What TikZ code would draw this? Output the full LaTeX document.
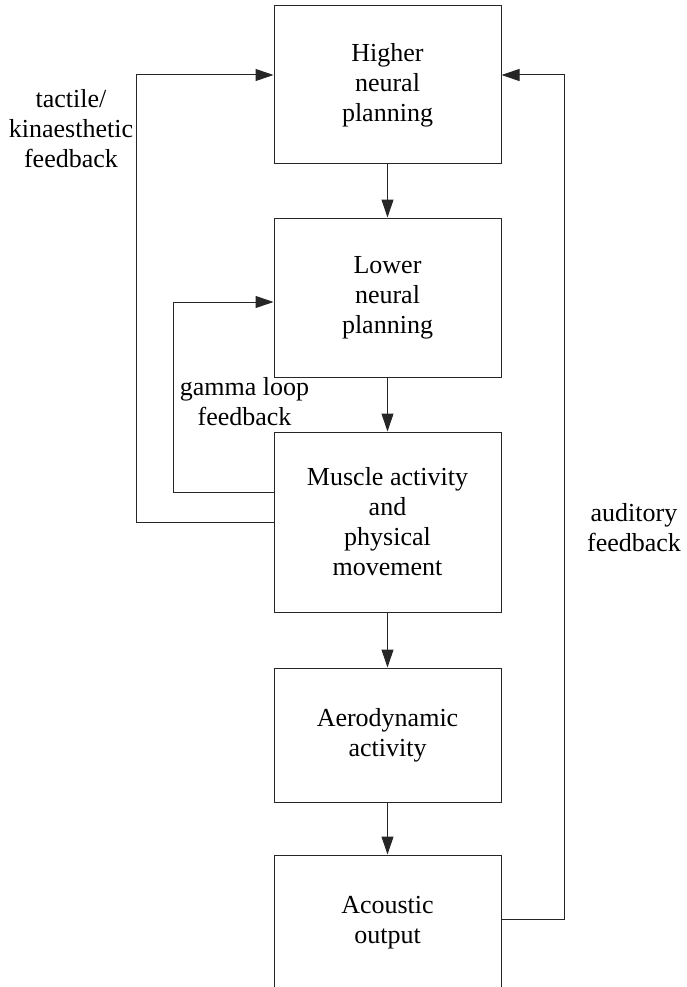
\documentclass[tikz,border=0pt]{standalone}
\usepackage{fontspec}
\setmainfont{Liberation Serif}
\usetikzlibrary{arrows.meta}
\begin{document}
\begin{tikzpicture}[x=1pt,y=-1pt,
  every node/.style={font=\fontsize{26}{30}\selectfont},
  blockbox/.style={draw=black!85, line width=1pt, rectangle, minimum width=227pt, align=center, inner sep=0pt},
  note/.style={align=center, inner sep=0pt},
  arr/.style={draw=black!85, line width=1pt, -{Triangle[length=18pt,width=12pt]}},
  link/.style={draw=black!85, line width=1pt}]
  \useasboundingbox (0,0) rectangle (686,987);
  \clip (0,0) rectangle (686,987);

  % processing stages, top to bottom
  \node[blockbox, minimum height=158pt] (b1) at (387.5,85)    {Higher\\neural\\planning};
  \node[blockbox, minimum height=159pt] (b2) at (387.5,297.5) {Lower\\neural\\planning};
  \node[blockbox, minimum height=180pt] (b3) at (387.5,522)   {Muscle activity\\and\\physical\\movement};
  \node[blockbox, minimum height=134pt] (b4) at (387.5,735)   {Aerodynamic\\activity};
  \node[blockbox, minimum height=135pt] (b5) at (387.5,922.5) {Acoustic\\output};

  % forward chain
  \draw[arr] (b1.south) -- (b2.north);
  \draw[arr] (b2.south) -- (b3.north);
  \draw[arr] (b3.south) -- (b4.north);
  \draw[arr] (b4.south) -- (b5.north);

  % feedback loops
  \draw[arr] (b3.west) -- ++(-137,0) |- ([yshift=10pt]b1.west);
  \draw[arr] ([yshift=30pt]b3.west) -- ++(-100,0) |- ([yshift=-4.5pt]b2.west);
  \draw[arr] ([yshift=3.5pt]b5.east) -- ++(63,0) |- ([yshift=10pt]b1.east);

  % loop labels
  \node[note] (ltact)  at (71,129)  {tactile/\\kinaesthetic\\feedback};
  \node[note] (lgamma) at (244.5,402) {gamma loop\\feedback};
  \node[note] (laud)   at (634,528) {auditory\\feedback};
\end{tikzpicture}
\end{document}
